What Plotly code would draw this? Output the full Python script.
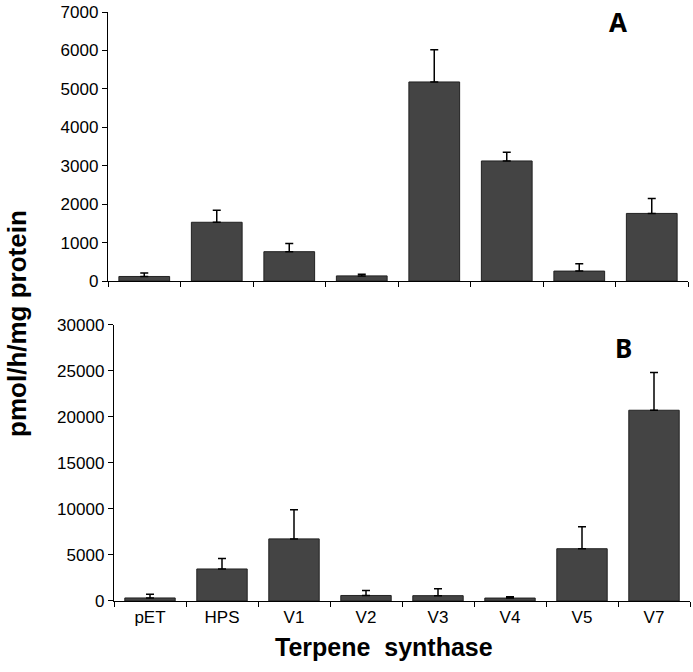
import plotly.graph_objects as go

categories = ["pET", "HPS", "V1", "V2", "V3", "V4", "V5", "V7"]
values_a = [120, 1530, 765, 135, 5180, 3125, 260, 1760]
errors_a = [90, 310, 215, 40, 840, 225, 190, 390]
values_b = [330, 3480, 6750, 600, 580, 320, 5680, 20730]
errors_b = [400, 1130, 3180, 540, 750, 150, 2380, 4100]

bar_color = "#444444"
tick_font = dict(family="Liberation Sans, Arial, sans-serif", size=17, color="black")

fig = go.Figure()
fig.add_trace(go.Bar(
    x=categories, y=values_a, xaxis="x", yaxis="y",
    marker=dict(color=bar_color, line=dict(color="#222222", width=1)),
    error_y=dict(type="data", array=errors_a, arrayminus=[0] * len(errors_a),
                 symmetric=False, color="black", thickness=1.5, width=4),
    showlegend=False, hoverinfo="skip",
))
fig.add_trace(go.Bar(
    x=categories, y=values_b, xaxis="x2", yaxis="y2",
    marker=dict(color=bar_color, line=dict(color="#222222", width=1)),
    error_y=dict(type="data", array=errors_b, arrayminus=[0] * len(errors_b),
                 symmetric=False, color="black", thickness=1.5, width=4),
    showlegend=False, hoverinfo="skip",
))

L, R, T, B = 108, 3, 10, 71
FW, FH = 693, 672
W = FW - L - R   # 582
H = FH - T - B   # 591

axis_common = dict(showline=True, linecolor="black", linewidth=1.2, ticks="outside",
                   tickcolor="black", ticklen=5, showgrid=False, zeroline=False,
                   tickfont=tick_font)

def px_to_paper(px, py):
    return (px - L) / W, (FH - B - py) / H

ann_specs = [
    ("<b>A</b>", 618, 20, 0, dict(family="Noto Sans, sans-serif", size=26, color="black")),
    ("<b>B</b>", 623, 347, 0, dict(family="Noto Sans, sans-serif", size=26, color="black")),
    ("<b>pmol/h/mg protein</b>", 17, 323, -90,
     dict(family="Liberation Sans, Arial, sans-serif", size=26, color="black")),
    ("<b>Terpene&nbsp;&nbsp;synthase</b>", 384, 647, 0,
     dict(family="Liberation Sans, Arial, sans-serif", size=25, color="black")),
]
annotations = []
for text, px, py, ang, font in ann_specs:
    x, y = px_to_paper(px, py)
    annotations.append(dict(text=text, x=x, y=y, xref="paper", yref="paper",
                            xanchor="center", yanchor="middle", textangle=ang,
                            showarrow=False, font=font))

top_lo = px_to_paper(0, 280)[1]
bot_hi = px_to_paper(0, 324)[1]

fig.update_layout(
    width=FW, height=FH,
    margin=dict(l=L, r=R, t=T, b=B),
    plot_bgcolor="white", paper_bgcolor="white",
    bargap=0.3,
    hovermode=False,
    xaxis=dict(domain=[0, 580 / W], anchor="y", type="category", tickson="boundaries",
               showticklabels=False, **axis_common),
    yaxis=dict(domain=[top_lo, 1], anchor="x", range=[0, 7000], dtick=1000,
               tickformat="d", **axis_common),
    xaxis2=dict(domain=[6 / W, 1], anchor="y2", type="category", tickson="boundaries",
                **axis_common),
    yaxis2=dict(domain=[0, bot_hi], anchor="x2", range=[0, 30000], dtick=5000,
                tickformat="d", **axis_common),
    annotations=annotations,
)

fig.write_html("out.html", config={"displayModeBar": False, "staticPlot": True},
               post_script="document.body.style.margin='0';document.body.style.overflow='hidden';")
